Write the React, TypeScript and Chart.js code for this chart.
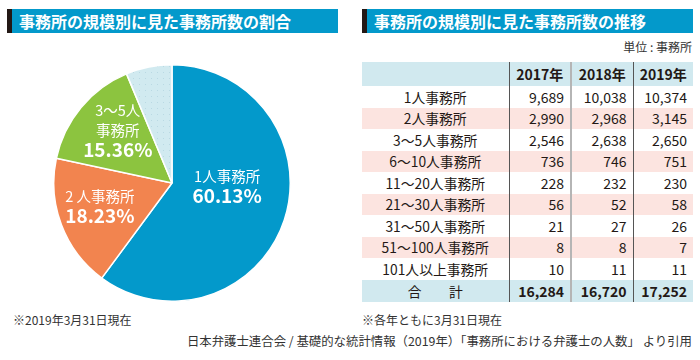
import React, { useEffect, useRef } from "react";
import { Chart, registerables } from "chart.js";

Chart.register(...registerables);

// ---- data ----
const rowLabels = [
  "1人事務所",
  "2人事務所",
  "3〜5人事務所",
  "6〜10人事務所",
  "11〜20人事務所",
  "21〜30人事務所",
  "31〜50人事務所",
  "51〜100人事務所",
  "101人以上事務所",
];
const years = ["2017年", "2018年", "2019年"];
const v2017 = [9689, 2990, 2546, 736, 228, 56, 21, 8, 10];
const v2018 = [10038, 2968, 2638, 746, 232, 52, 27, 8, 11];
const v2019 = [10374, 3145, 2650, 751, 230, 58, 26, 7, 11];
const totals = [16284, 16720, 17252];
const totalLabel = "合　　計";

const pieNames = [["1人事務所"], ["2 人事務所"], ["3〜5人", "事務所"], []];
const pieShares = [60.13, 18.23, 15.36, 6.28];

// ---- styles ----
const FONT = '"Noto Sans CJK JP", "Noto Sans", sans-serif';
const pieColors = ["#0399cb", "#f2844f", "#8cc43f", "#d1eaf0"];
const labelPlace = [
  { shift: -14.6, r: 0.467 },
  { shift: 3, r: 0.64 },
  { shift: 4.5, r: 0.64 },
  null,
];

function makeDotPattern(bg: string, dot: string): CanvasPattern | string {
  const c = document.createElement("canvas");
  c.width = 6;
  c.height = 6;
  const ctx = c.getContext("2d");
  if (!ctx) return bg;
  ctx.fillStyle = bg;
  ctx.fillRect(0, 0, 6, 6);
  ctx.fillStyle = dot;
  ctx.fillRect(2, 2, 1, 1);
  const p = ctx.createPattern(c, "repeat");
  return p || bg;
}

const pieLabelPlugin = {
  id: "pieLabels",
  afterDatasetsDraw(chart: any) {
    const ctx = chart.ctx;
    const meta = chart.getDatasetMeta(0);
    meta.data.forEach((arc: any, i: number) => {
      const p = labelPlace[i];
      if (!p) return;
      const { x, y, startAngle, endAngle, outerRadius } = arc.getProps(
        ["x", "y", "startAngle", "endAngle", "outerRadius"],
        true
      );
      const a = (startAngle + endAngle) / 2 + (p.shift * Math.PI) / 180;
      const cx = x + Math.cos(a) * outerRadius * p.r;
      const cy = y + Math.sin(a) * outerRadius * p.r;
      const lines = [...pieNames[i], pieShares[i].toFixed(2) + "%"];
      const lh = 19.5;
      const top = cy - ((lines.length - 1) * lh) / 2;
      ctx.save();
      ctx.fillStyle = "#ffffff";
      ctx.textAlign = "center";
      ctx.textBaseline = "middle";
      lines.forEach((t, k) => {
        const isPct = k === lines.length - 1;
        ctx.font = isPct ? `700 19px ${FONT}` : `400 14.5px ${FONT}`;
        ctx.fillText(t, cx, top + k * lh);
      });
      ctx.restore();
    });
  },
};

function PieChart() {
  const ref = useRef<HTMLCanvasElement>(null);
  useEffect(() => {
    if (!ref.current) return;
    const bgs = pieColors.map((c, i) =>
      i === 3 ? makeDotPattern(c, "#b9d9e3") : c
    );
    const chart = new Chart(ref.current, {
      type: "pie",
      data: {
        labels: pieNames.map((n) => (n.length ? n.join("") : "その他")),
        datasets: [
          {
            data: pieShares,
            backgroundColor: bgs as any,
            borderColor: "#ffffff",
            borderWidth: 1.5,
          },
        ],
      },
      options: {
        responsive: false,
        animation: false,
        devicePixelRatio: 1,
        layout: { padding: 0 },
        plugins: {
          legend: { display: false },
          tooltip: { enabled: false },
        },
      },
      plugins: [pieLabelPlugin],
    });
    return () => chart.destroy();
  }, []);
  return (
    <canvas
      ref={ref}
      width={238}
      height={238}
      style={{ position: "absolute", left: 53, top: 64, width: 238, height: 238 }}
    />
  );
}

const fmt = (n: number) => n.toLocaleString("en-US");

function TitleBar({ left, width, text }: { left: number; width: number; text: string }) {
  return (
    <div
      style={{
        position: "absolute",
        left,
        top: 9,
        width,
        height: 24,
        background: "#0399cb",
        borderLeft: "5px solid #231815",
        boxSizing: "border-box",
        color: "#fff",
        fontWeight: 700,
        fontSize: 16,
        lineHeight: "24px",
        paddingLeft: 7,
        whiteSpace: "nowrap",
      }}
    >
      {text}
    </div>
  );
}

export default function App() {
  const pink = "#fce4e0";
  const blue = "#d1e9ef";
  const rowH = 21.5;
  const cellNum: React.CSSProperties = {
    textAlign: "right",
    fontSize: 14,
  };
  const cols = [
    { borderRight: "1px solid #555" },
    { borderRight: "2px solid #b5b5b5" },
    { borderRight: "1px solid #555" },
    {},
  ];
  return (
    <div
      style={{
        position: "absolute",
        left: 0,
        top: 0,
        width: 700,
        height: 360,
        background: "#fff",
        fontFamily: FONT,
        color: "#231815",
        overflow: "hidden",
      }}
    >
      <TitleBar left={7} width={331} text="事務所の規模別に見た事務所数の割合" />
      <TitleBar left={362} width={331} text="事務所の規模別に見た事務所数の推移" />
      <PieChart />
      <div
        style={{
          position: "absolute",
          right: 8,
          top: 38,
          fontSize: 12,
          lineHeight: "18px",
          color: "#333",
        }}
      >
        単位 : 事務所
      </div>
      <table
        style={{
          position: "absolute",
          left: 362,
          top: 62,
          width: 331,
          borderCollapse: "collapse",
          tableLayout: "fixed",
          fontSize: 13.8,
          color: "#231815",
        }}
      >
        <colgroup>
          <col style={{ width: 147 }} />
          <col style={{ width: 62 }} />
          <col style={{ width: 62 }} />
          <col style={{ width: 60 }} />
        </colgroup>
        <tbody>
          <tr style={{ height: 24, background: blue }}>
            <td style={{ ...cols[0], padding: 0 }} />
            {years.map((y, j) => (
              <td
                key={y}
                style={{
                  ...cols[j + 1],
                  textAlign: "center",
                  fontWeight: 700,
                  fontSize: 14,
                  padding: 0,
                }}
              >
                {y}
              </td>
            ))}
          </tr>
          {rowLabels.map((lab, i) => (
            <tr key={lab} style={{ height: rowH, background: i % 2 === 1 ? pink : "#fff" }}>
              <td style={{ ...cols[0], textAlign: "center", padding: 0 }}>{lab}</td>
              {[v2017[i], v2018[i], v2019[i]].map((v, j) => (
                <td key={j} style={{ ...cols[j + 1], ...cellNum, padding: "0 6px 0 0" }}>
                  {fmt(v)}
                </td>
              ))}
            </tr>
          ))}
          <tr style={{ height: 22.5, background: blue }}>
            <td style={{ ...cols[0], textAlign: "center", padding: 0 }}>{totalLabel}</td>
            {totals.map((v, j) => (
              <td
                key={j}
                style={{ ...cols[j + 1], ...cellNum, fontWeight: 700, padding: "0 6px 0 0" }}
              >
                {fmt(v)}
              </td>
            ))}
          </tr>
        </tbody>
      </table>
      <div style={{ position: "absolute", left: 13, top: 311, fontSize: 12, lineHeight: "18px", color: "#333" }}>
        ※2019年3月31日現在
      </div>
      <div style={{ position: "absolute", left: 362, top: 311, fontSize: 12, lineHeight: "18px", color: "#333" }}>
        ※各年ともに3月31日現在
      </div>
      <div
        style={{
          position: "absolute",
          right: 8,
          top: 332,
          fontSize: 12.4,
          lineHeight: "18px",
          color: "#333",
          whiteSpace: "nowrap",
        }}
      >
        日本弁護士連合会 / 基礎的な統計情報（2019年）「事務所における弁護士の人数」 より引用
      </div>
    </div>
  );
}
